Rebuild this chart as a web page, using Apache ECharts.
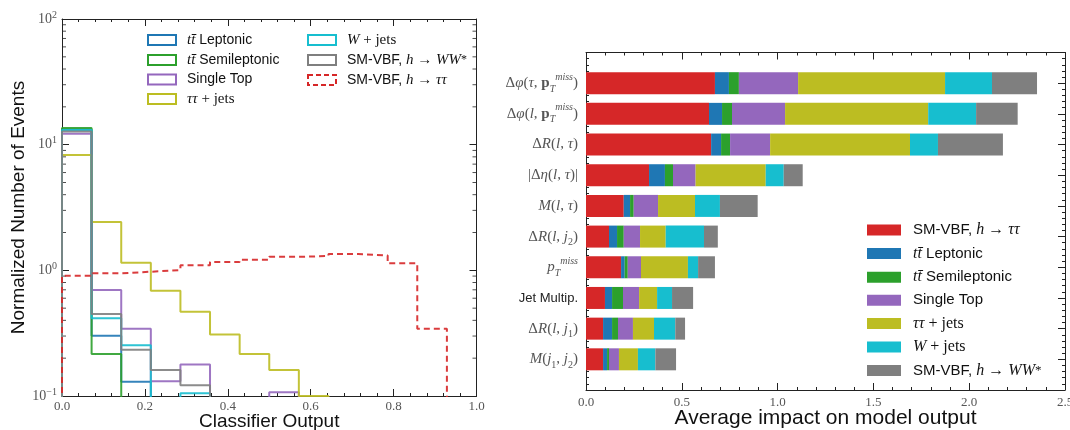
<!DOCTYPE html>
<html><head><meta charset="utf-8">
<script src="https://cdn.jsdelivr.net/npm/echarts@6/dist/echarts.min.js"></script>
<style>html,body{margin:0;padding:0;background:#fff}#c{width:1070px;height:430px}</style>
</head><body><div id="c"></div>
<script>
// ---------- Left panel: histogram of classifier output ----------
const binEdges = [0, 0.0714, 0.1429, 0.2143, 0.2857, 0.3571, 0.4286, 0.5, 0.5714, 0.6429, 0.7143, 0.7857, 0.8571, 0.9286, 1.0];
const histTTLep      = [13.2, 0.302, 0.130, 0, 0, 0, 0, 0, 0, 0, 0, 0, 0, 0];
const histTTSemi     = [13.6, 0.216, 0, 0, 0, 0, 0, 0, 0, 0, 0, 0, 0, 0];
const histSingleTop  = [12.2, 0.697, 0.343, 0.131, 0.178, 0, 0, 0.107, 0, 0, 0, 0, 0, 0];
const histTauTauJets = [8.28, 2.42, 1.15, 0.688, 0.469, 0.309, 0.216, 0.161, 0.100, 0, 0, 0, 0, 0];
const histWJets      = [13.1, 0.415, 0.254, 0, 0.105, 0, 0, 0, 0, 0, 0, 0, 0, 0];
const histSMWW       = [12.7, 0.449, 0.233, 0.161, 0.122, 0, 0, 0, 0, 0, 0, 0, 0, 0];
const histSMTauTau   = [0.906, 0.946, 0.975, 1.005, 1.096, 1.164, 1.215, 1.28, 1.30, 1.35, 1.31, 1.137, 0.343, 0];
const logMinorTicks  = [0.2,0.3,0.4,0.5,0.6,0.7,0.8,0.9,2,3,4,5,6,7,8,9,20,30,40,50,60,70,80,90];

// ---------- Right panel: average impact ----------
const impactCategories = ['Δφ(τ, pT miss)', 'Δφ(l, pT miss)', 'ΔR(l, τ)', '|Δη(l, τ)|', 'M(l, τ)', 'ΔR(l, j2)', 'pT miss', 'Jet Multip.', 'ΔR(l, j1)', 'M(j1, j2)'];
const impactCategoryLabels = [
  '{u|Δ}{i|φ}{u|(}{i|τ}{u|, }{b|p}{sub|T}{sup|miss}{u|)}',
  '{u|Δ}{i|φ}{u|(}{i|l}{u|, }{b|p}{sub|T}{sup|miss}{u|)}',
  '{u|Δ}{i|R}{u|(}{i|l}{u|, }{i|τ}{u|)}',
  '{u||Δ}{i|η}{u|(}{i|l}{u|, }{i|τ}{u|)|}',
  '{i|M}{u|(}{i|l}{u|, }{i|τ}{u|)}',
  '{u|Δ}{i|R}{u|(}{i|l}{u|, }{i|j}{subu|2}{u|)}',
  '{i|p}{sub|T}{sup|miss}',
  '{s|Jet Multip.}',
  '{u|Δ}{i|R}{u|(}{i|l}{u|, }{i|j}{subu|1}{u|)}',
  '{i|M}{u|(}{i|j}{subu|1}{u|, }{i|j}{subu|2}{u|)}'
];
const impactSMTauTau   = [0.673, 0.642, 0.653, 0.329, 0.197, 0.120, 0.183, 0.099, 0.089, 0.089];
const impactTTLep      = [0.073, 0.068, 0.052, 0.083, 0.033, 0.042, 0.019, 0.037, 0.047, 0.021];
const impactTTSemi     = [0.052, 0.052, 0.047, 0.042, 0.019, 0.035, 0.016, 0.057, 0.031, 0.010];
const impactSingleTop  = [0.309, 0.277, 0.209, 0.118, 0.127, 0.085, 0.069, 0.084, 0.078, 0.052];
const impactTauTauJets = [0.767, 0.747, 0.730, 0.366, 0.193, 0.134, 0.245, 0.094, 0.110, 0.099];
const impactWJets      = [0.245, 0.250, 0.146, 0.094, 0.130, 0.200, 0.053, 0.078, 0.111, 0.091];
const impactSMWW       = [0.235, 0.217, 0.339, 0.099, 0.197, 0.072, 0.088, 0.110, 0.051, 0.108];

// ---------- Process labels ----------
const processLabels = {
  ttLep:   '{m|tt\u0304}{s| Leptonic}',
  ttSemi:  '{m|tt\u0304}{s| Semileptonic}',
  single:  '{s|Single Top}',
  tautau:  '{m|ττ}{r| + jets}',
  wjets:   '{m|W}{r| + jets}',
  smww:    '{s|SM-VBF, }{m|h}{r| → }{m|WW}{sup|*}',
  smtt:    '{s|SM-VBF, }{m|h}{r| → }{m|ττ}'
};
const colors = {ttLep:'#1f77b4', ttSemi:'#2ca02c', single:'#9467bd', tautau:'#bcbd22', wjets:'#17becf', smww:'#7f7f7f', smtt:'#d62728'};

const SANS = 'Liberation Sans', SERIF = 'Liberation Serif';
const INK = '#222', GRAYTXT = '#555';
const FLOOR = 1e-4;

function histPoints(vals) {
  const pts = [[binEdges[0], FLOOR]];
  vals.forEach((v, i) => pts.push([binEdges[i], v > 0 ? v : FLOOR]));
  pts.push([binEdges[binEdges.length - 1], FLOOR]);
  return pts;
}

const histDefs = [
  ['ttLep', histTTLep], ['ttSemi', histTTSemi], ['single', histSingleTop], ['tautau', histTauTauJets],
  ['wjets', histWJets], ['smww', histSMWW], ['smtt', histSMTauTau]
];
const impactDefs = [
  ['smtt', impactSMTauTau], ['ttLep', impactTTLep], ['ttSemi', impactTTSemi], ['single', impactSingleTop],
  ['tautau', impactTauTauJets], ['wjets', impactWJets], ['smww', impactSMWW]
];

function richSet(size) {
  return {
    s:   {fontFamily: SANS, fontSize: size, color: '#111'},
    m:   {fontFamily: SERIF, fontStyle: 'italic', fontSize: size + 1, color: '#111'},
    r:   {fontFamily: SERIF, fontSize: size + 1, color: '#111'},
    sup: {fontFamily: SERIF, fontSize: size - 2, color: '#111'}
  };
}

const series = [];
histDefs.forEach(([key, vals]) => {
  series.push({
    name: 'L_' + key, type: 'line', xAxisIndex: 0, yAxisIndex: 0, step: 'end', symbol: 'none',
    data: histPoints(vals), clip: true, silent: true,
    lineStyle: {color: colors[key], width: 2, type: key === 'smtt' ? [6, 4] : 'solid', opacity: 0.9},
    itemStyle: {color: colors[key]}
  });
});
// log-scale minor ticks (left and right spines of the histogram panel)
[[0, [2, 0]], [1, [-2, 0]]].forEach(([xv, off]) => {
  series.push({
    type: 'scatter', xAxisIndex: 0, yAxisIndex: 0, silent: true, clip: false,
    symbol: 'rect', symbolSize: [4, 1], symbolOffset: off,
    itemStyle: {color: INK}, data: logMinorTicks.map(v => [xv, v])
  });
});
impactDefs.forEach(([key, vals]) => {
  series.push({
    name: 'R_' + key, type: 'bar', xAxisIndex: 2, yAxisIndex: 2, stack: 'impact', barWidth: 22,
    data: ['-'].concat(vals, ['-']), silent: true,
    itemStyle: {color: colors[key]}
  });
});

function legendItems(prefix, keys, outline) {
  return keys.map(k => ({
    name: prefix + k, icon: 'rect',
    itemStyle: outline
      ? {color: 'rgba(0,0,0,0)', borderColor: colors[k], borderWidth: 2, borderType: k === 'smtt' ? [5, 3] : 'solid'}
      : {color: colors[k], borderWidth: 0}
  }));
}
const legendFormatter = name => processLabels[name.slice(2)];

const axLine = {show: true, onZero: false, lineStyle: {color: INK, width: 1}};
const tickIn = {show: true, inside: true, length: 7, lineStyle: {color: INK}};
const minorIn = (n) => ({show: true, splitNumber: n, length: 3, lineStyle: {color: INK}});

const option = {
  animation: false,
  backgroundColor: '#fff',
  grid: [
    {left: 62, top: 19, width: 414.5, height: 377, outerBoundsMode: 'none', containLabel: false},
    {left: 586, top: 52.5, width: 479, height: 337.5, outerBoundsMode: 'none', containLabel: false}
  ],
  xAxis: [
    {type: 'value', gridIndex: 0, min: 0, max: 1, interval: 0.2, position: 'bottom',
     axisLine: axLine, axisTick: tickIn, minorTick: minorIn(5), splitLine: {show: false},
     axisLabel: {formatter: v => v.toFixed(1), fontFamily: SERIF, fontSize: 13, color: GRAYTXT, margin: 4},
     name: 'Classifier Output', nameLocation: 'middle', nameGap: 16, nameMoveOverlap: false,
     nameTextStyle: {fontFamily: SANS, fontSize: 19, color: '#111'}},
    {type: 'value', gridIndex: 0, min: 0, max: 1, interval: 0.2, position: 'top',
     axisLine: axLine, axisTick: tickIn, minorTick: minorIn(5), splitLine: {show: false}, axisLabel: {show: false}},
    {type: 'value', gridIndex: 1, min: 0, max: 2.5, interval: 0.5, position: 'bottom',
     axisLine: axLine, axisTick: tickIn, minorTick: minorIn(5), splitLine: {show: false},
     axisLabel: {formatter: v => v.toFixed(1), fontFamily: SERIF, fontSize: 13, color: GRAYTXT, margin: 6},
     name: 'Average impact on model output', nameLocation: 'middle', nameGap: 18, nameMoveOverlap: false,
     nameTextStyle: {fontFamily: SANS, fontSize: 21, color: '#111'}},
    {type: 'value', gridIndex: 1, min: 0, max: 2.5, interval: 0.5, position: 'top',
     axisLine: axLine, axisTick: tickIn, minorTick: minorIn(5), splitLine: {show: false}, axisLabel: {show: false}}
  ],
  yAxis: [
    {type: 'log', logBase: 10, gridIndex: 0, min: 0.1, max: 100, position: 'left',
     axisLine: axLine, axisTick: tickIn, splitLine: {show: false},
     axisLabel: {margin: 5, formatter: v => {
       const e = Math.round(Math.log10(v));
       return '{b|10}{e|' + (e < 0 ? '\u2212' + (-e) : e) + '}';
     }, rich: {
       b: {fontFamily: SERIF, fontSize: 14, color: GRAYTXT, lineHeight: 18},
       e: {fontFamily: SERIF, fontSize: 10, color: GRAYTXT, lineHeight: 10, verticalAlign: 'top'}
     }},
     name: 'Normalized Number of Events', nameLocation: 'middle', nameGap: 34, nameMoveOverlap: false,
     nameTextStyle: {fontFamily: SANS, fontSize: 19, color: '#111'}},
    {type: 'log', logBase: 10, gridIndex: 0, min: 0.1, max: 100, position: 'right',
     axisLine: axLine, axisTick: tickIn, splitLine: {show: false}, axisLabel: {show: false}},
    {type: 'category', gridIndex: 1, inverse: true, boundaryGap: false, position: 'left',
     data: [''].concat(impactCategories, ['']),
     axisLine: axLine, axisTick: {show: false}, splitLine: {show: false},
     axisLabel: {margin: 8, interval: 0,
       formatter: (v, idx) => (idx >= 1 && idx <= impactCategoryLabels.length) ? impactCategoryLabels[idx - 1] : '',
       rich: {
         u:    {fontFamily: SERIF, fontSize: 15, color: GRAYTXT, lineHeight: 22},
         i:    {fontFamily: SERIF, fontStyle: 'italic', fontSize: 15, color: GRAYTXT, lineHeight: 22},
         b:    {fontFamily: SERIF, fontWeight: 'bold', fontSize: 15, color: GRAYTXT, lineHeight: 22},
         sub:  {fontFamily: SERIF, fontStyle: 'italic', fontSize: 10, color: GRAYTXT, lineHeight: 10, verticalAlign: 'bottom'},
         subu: {fontFamily: SERIF, fontSize: 10, color: GRAYTXT, lineHeight: 10, verticalAlign: 'bottom'},
         sup:  {fontFamily: SERIF, fontStyle: 'italic', fontSize: 10, color: GRAYTXT, lineHeight: 10, verticalAlign: 'top'},
         s:    {fontFamily: SANS, fontSize: 13, color: '#222', lineHeight: 22}
       }}},
    {type: 'value', gridIndex: 1, inverse: true, min: -1, max: 10, interval: 1, position: 'left',
     axisLine: {show: false, onZero: false}, axisTick: tickIn, minorTick: minorIn(5), splitLine: {show: false}, axisLabel: {show: false}},
    {type: 'value', gridIndex: 1, inverse: true, min: -1, max: 10, interval: 1, position: 'right',
     axisLine: axLine, axisTick: tickIn, minorTick: minorIn(5), splitLine: {show: false}, axisLabel: {show: false}}
  ],
  legend: [
    {left: 142, top: 27.5, orient: 'vertical', itemWidth: 28, itemHeight: 10, itemGap: 5, selectedMode: false,
     data: legendItems('L_', ['ttLep', 'ttSemi', 'single', 'tautau'], true), formatter: legendFormatter,
     textStyle: {padding: [0, 0, 0, 6], rich: richSet(14)}},
    {left: 302, top: 27.5, orient: 'vertical', itemWidth: 28, itemHeight: 10, itemGap: 5, selectedMode: false,
     data: legendItems('L_', ['wjets', 'smww', 'smtt'], true), formatter: legendFormatter,
     textStyle: {padding: [0, 0, 0, 6], rich: richSet(14)}},
    {left: 862, top: 217, orient: 'vertical', itemWidth: 34, itemHeight: 11, itemGap: 7.6, selectedMode: false,
     data: legendItems('R_', ['smtt', 'ttLep', 'ttSemi', 'single', 'tautau', 'wjets', 'smww'], false), formatter: legendFormatter,
     textStyle: {padding: [0, 0, 0, 7], rich: richSet(15)}}
  ],
  series: series
};
const chart = echarts.init(document.getElementById('c'));
chart.setOption(option);
</script>
</body></html>
